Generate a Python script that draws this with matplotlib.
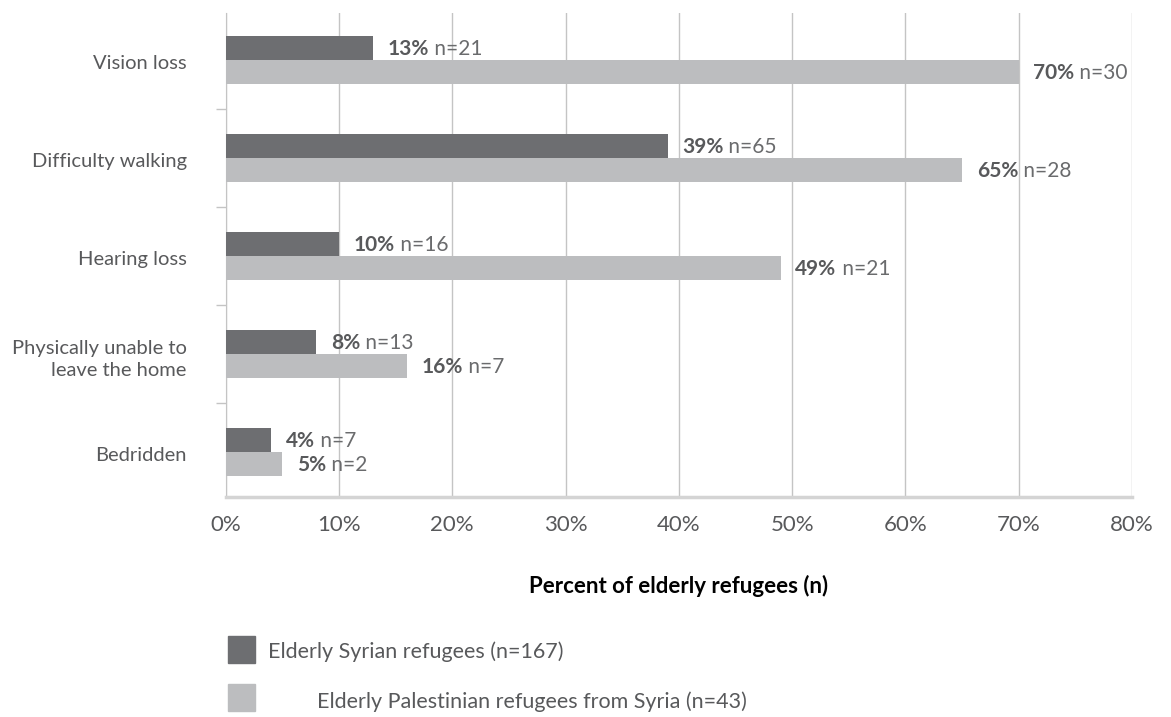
import numpy as np
import matplotlib.pyplot as plt
from matplotlib.patches import Rectangle
from matplotlib.ticker import FixedLocator

plt.rcParams["font.family"] = ["Lato", "DejaVu Sans"]

conditions = ["Vision loss", "Difficulty walking", "Hearing loss",
              "Physically unable to\nleave the home", "Bedridden"]
syrian_pct = [13, 39, 10, 8, 4]
syrian_n = [21, 65, 16, 13, 7]
palestinian_pct = [70, 65, 49, 16, 5]
palestinian_n = [30, 28, 21, 7, 2]
x_ticks = [0, 10, 20, 30, 40, 50, 60, 70, 80]
series_names = ["Elderly Syrian refugees (n=167)",
                "Elderly Palestinian refugees from Syria (n=43)"]

DARK = "#6d6e71"
LIGHT = "#bcbdbf"
TEXT = "#58595b"
GRID = "#c4c4c4"

W, H = 1171, 717
fig = plt.figure(figsize=(W / 100, H / 100), dpi=100)
ax = fig.add_axes([225.7 / W, 1 - 496.7 / H, (1132 - 225.7) / W, (496.7 - 12.7) / H])

y = np.arange(len(conditions))
h = 0.245
ax.barh(y - h / 2, syrian_pct, height=h, color=DARK, zorder=3)
ax.barh(y + h / 2, palestinian_pct, height=h, color=LIGHT, zorder=3)


def value_label(x, yy, pct, n):
    # bold percentage, then the count right after it
    t = ax.annotate(f"{pct}%", xy=(x, yy), xytext=(10.5, -1), textcoords="offset points",
                    ha="left", va="center", fontsize=15, fontweight="bold", color=TEXT,
                    zorder=4)
    ax.annotate(f" n={n}", xy=(1, 0.5), xycoords=t, ha="left", va="center",
                fontsize=15, color="#6a6b6d", zorder=4)


for i in range(len(conditions)):
    value_label(syrian_pct[i], y[i] - h / 2, syrian_pct[i], syrian_n[i])
    value_label(palestinian_pct[i], y[i] + h / 2, palestinian_pct[i], palestinian_n[i])

ax.set_xlim(0, 80)
ax.set_ylim(4.46, -0.483)
ax.set_xticks(x_ticks)
ax.set_xticklabels([f"{v}%" for v in x_ticks])
ax.set_yticks(y + 0.02)
ax.set_yticklabels(conditions, linespacing=1.35)
ax.yaxis.set_minor_locator(FixedLocator(np.arange(-0.5, len(conditions), 1.0)))

ax.tick_params(axis="y", which="major", length=0, pad=28, labelsize=14.5, labelcolor=TEXT)
ax.tick_params(axis="y", which="minor", length=7, width=1, color=GRID)
ax.tick_params(axis="x", length=0, pad=13, labelsize=16, labelcolor=TEXT)
for lbl in ax.get_yticklabels():
    lbl.set_horizontalalignment("right")

ax.grid(axis="x", color=GRID, linewidth=1, zorder=0)
for side in ["top", "right"]:
    ax.spines[side].set_visible(False)
ax.spines["left"].set_color(GRID)
ax.spines["bottom"].set_color("#d4d4d4")
ax.spines["bottom"].set_linewidth(2.5)

ax.set_xlabel("Percent of elderly refugees (n)", fontsize=16, fontweight="bold",
              color="black", labelpad=29)

# legend drawn by hand: swatches with offset labels
swatch = 27
fig.patches.append(Rectangle((228 / W, 1 - 663 / H), swatch / W, swatch / H,
                             transform=fig.transFigure, color=DARK))
fig.patches.append(Rectangle((228 / W, 1 - 711 / H), swatch / W, swatch / H,
                             transform=fig.transFigure, color=LIGHT))
fig.text(268 / W, 1 - 652 / H, series_names[0], fontsize=15.5, color=TEXT,
         va="center", ha="left")
fig.text(317 / W, 1 - 702 / H, series_names[1], fontsize=15.5, color=TEXT,
         va="center", ha="left")

fig.savefig("out.png", dpi=100)
